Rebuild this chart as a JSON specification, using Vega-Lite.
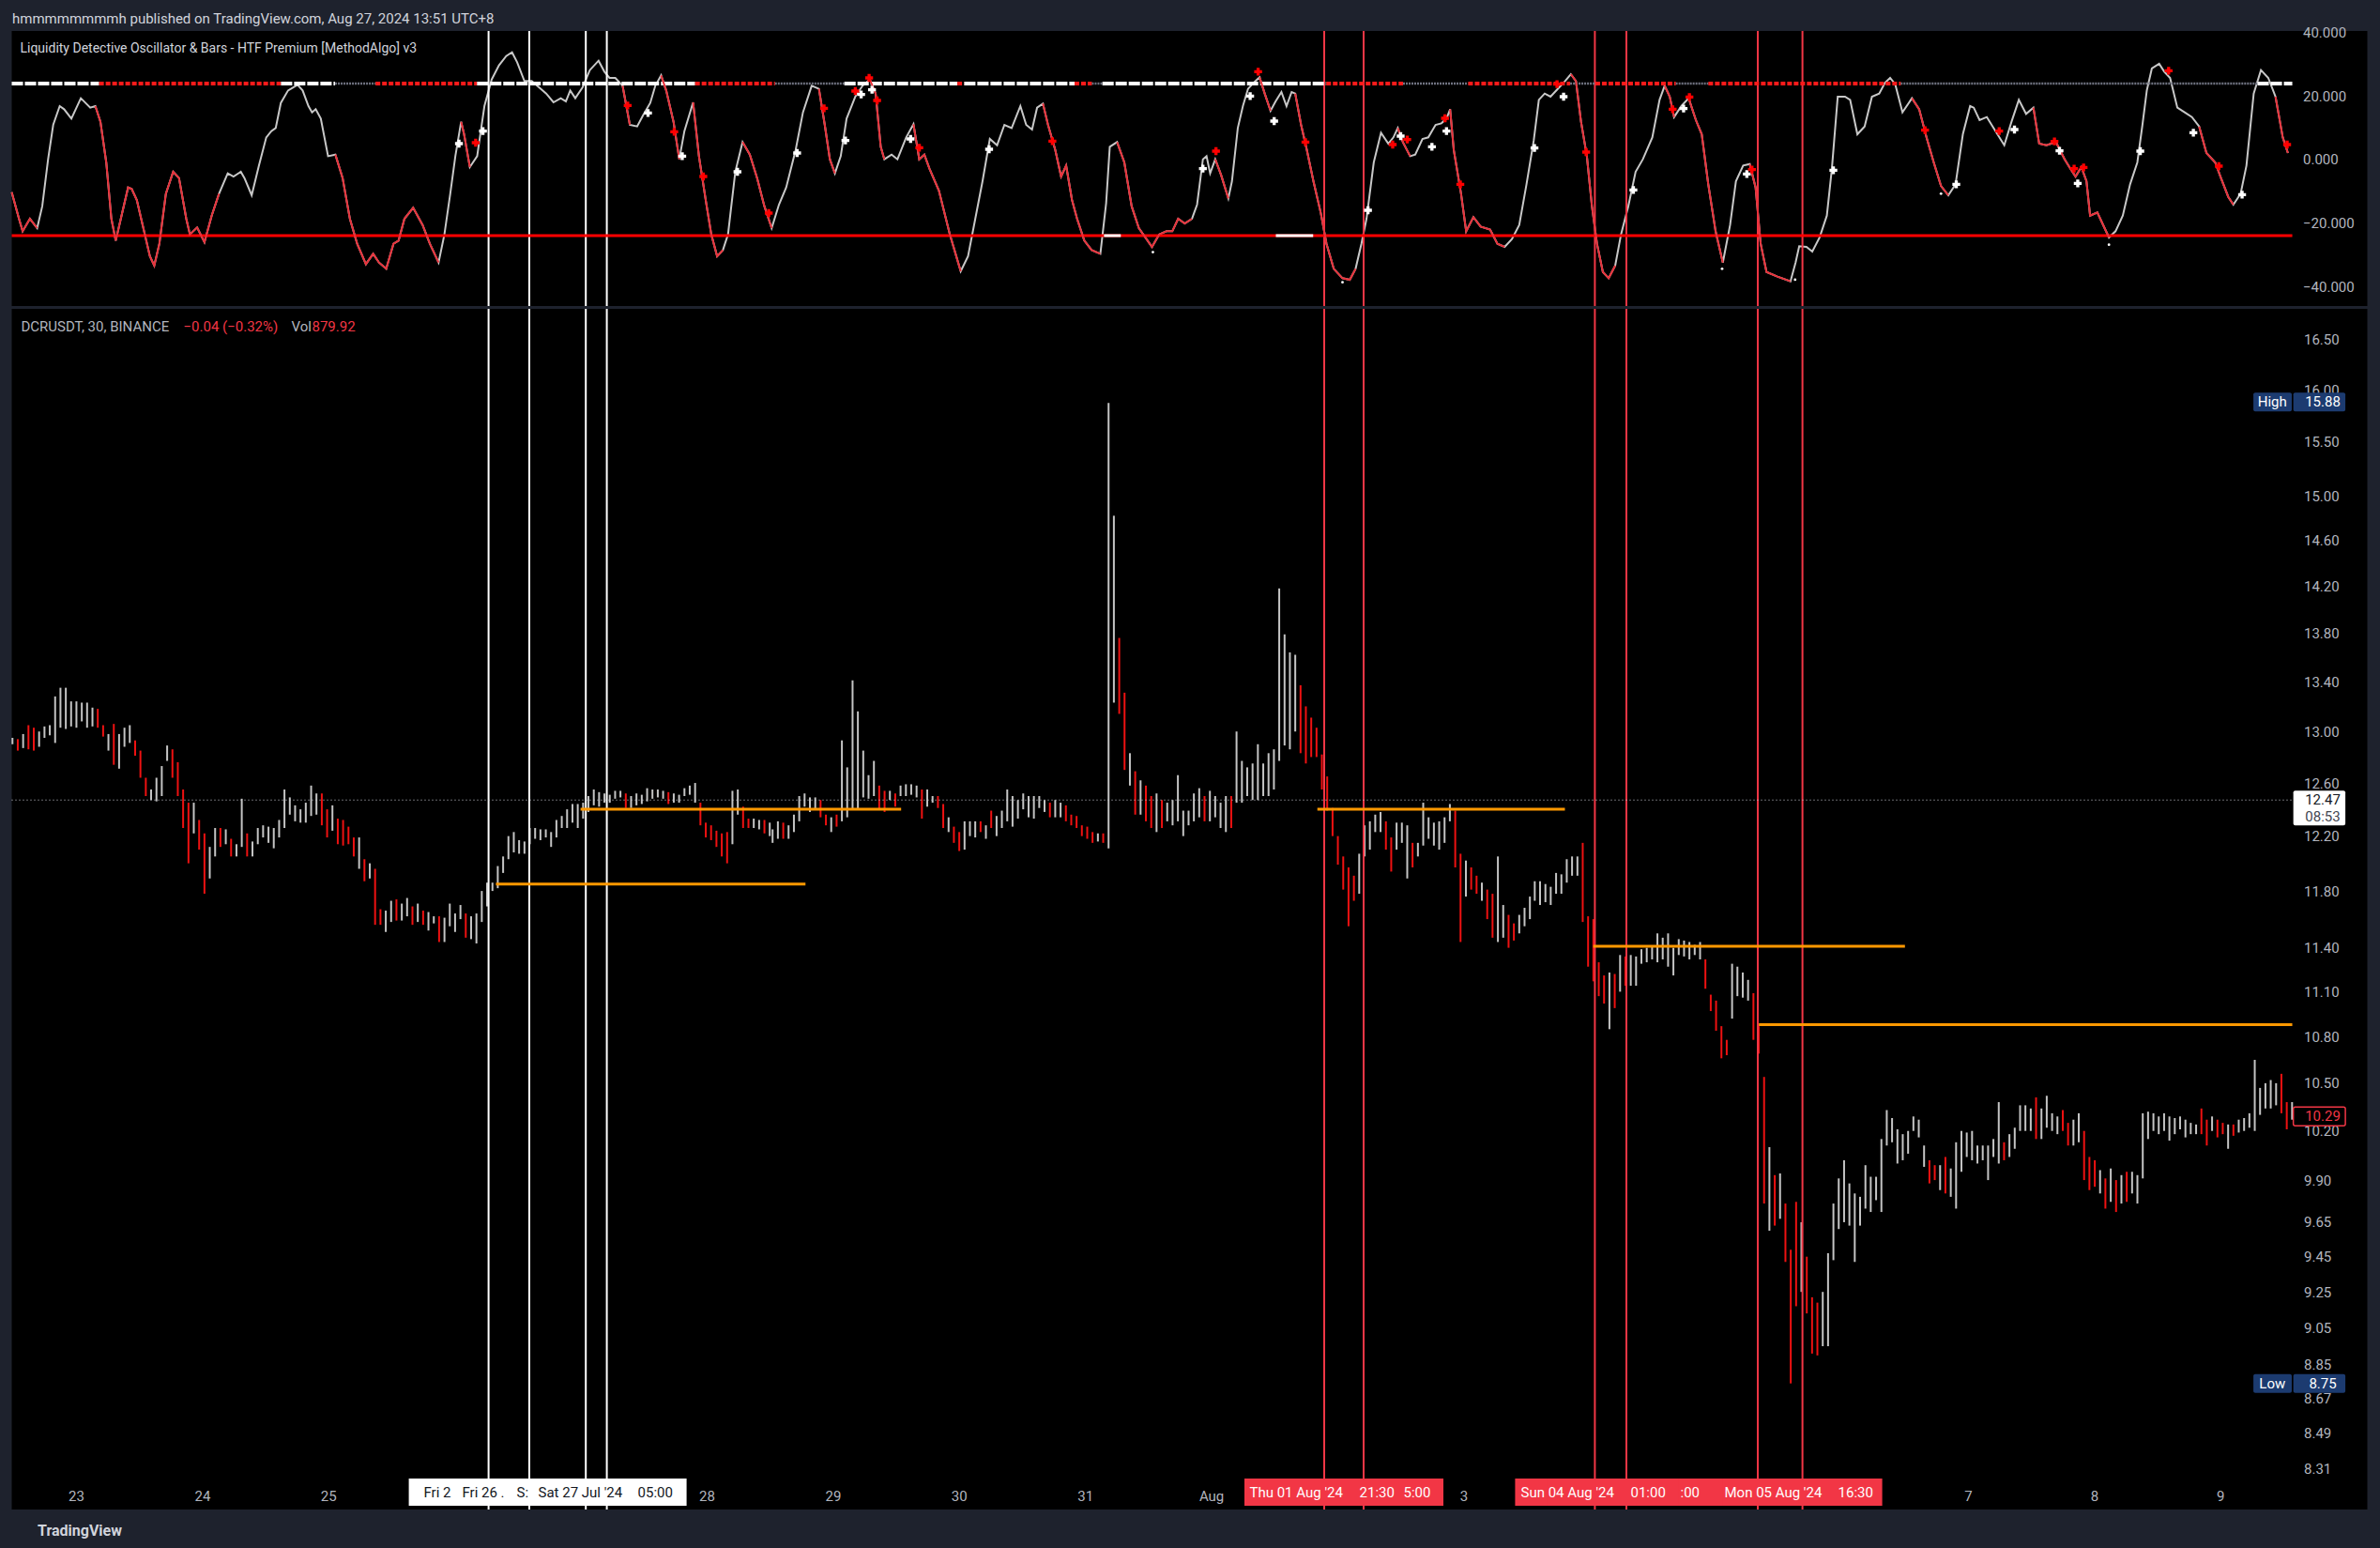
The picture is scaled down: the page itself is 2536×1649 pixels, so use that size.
{
"$schema": "https://vega.github.io/schema/vega-lite/v6.json",
"background": "#1e222d",
"padding": {"left": 8.5, "right": 13, "top": 12, "bottom": 20},
"title": {"text": "hmmmmmmmmh published on TradingView.com, Aug 27, 2024 13:51 UTC+8", "anchor": "start", "fontSize": 15, "fontWeight": "normal", "color": "#d1d4dc", "offset": 0, "dx": 4.5},
"spacing": 1,
"config": {"font": "Roboto", "view": {"fill": "#000000", "stroke": null}, "axis": {"labelColor": "#b2b5be", "labelFontSize": 15, "ticks": false, "domain": false, "grid": false, "labelFlush": false, "labelOverlap": false, "zindex": 1}},
"datasets": {
"vlines": [{"h":78.5,"k":"w"},{"h":86.25,"k":"w"},{"h":97,"k":"w"},{"h":101,"k":"w"},{"h":237.5,"k":"r"},{"h":245,"k":"r"},{"h":289,"k":"r"},{"h":295,"k":"r"},{"h":320,"k":"r"},{"h":328.5,"k":"r"}],
"topseg": [{"h1":-12.23,"h2":4.4,"k":"w"},{"h1":4.4,"h2":39,"k":"r"},{"h1":39,"h2":49.3,"k":"w"},{"h1":49.3,"h2":57,"k":"g"},{"h1":57,"h2":76.3,"k":"r"},{"h1":76.3,"h2":117.8,"k":"w"},{"h1":117.8,"h2":133,"k":"r"},{"h1":133,"h2":146.2,"k":"g"},{"h1":146.2,"h2":167.7,"k":"w"},{"h1":167.7,"h2":169,"k":"r"},{"h1":169,"h2":190,"k":"w"},{"h1":190,"h2":193.3,"k":"r"},{"h1":193.3,"h2":195.3,"k":"g"},{"h1":195.3,"h2":237.9,"k":"w"},{"h1":237.9,"h2":252.5,"k":"r"},{"h1":252.5,"h2":264.9,"k":"g"},{"h1":264.9,"h2":284.3,"k":"r"},{"h1":284.3,"h2":289.1,"k":"g"},{"h1":289.1,"h2":304.4,"k":"r"},{"h1":304.4,"h2":310.6,"k":"g"},{"h1":310.6,"h2":347.2,"k":"r"},{"h1":347.2,"h2":415.1,"k":"g"},{"h1":415.1,"h2":421.7,"k":"w"}],
"osc": [
{"h":-12.23,"v":-10.27,"r":1},{"h":-10.85,"v":-18.67,"r":1},{"h":-10.15,"v":-22.62,"r":1},{"h":-8.77,"v":-18.67,"r":1},{"h":-7.39,"v":-21.63,"r":1},{"h":-6.42,"v":-14.72,"r":0},{"h":-5.31,"v":0.1,"r":0},{"h":-4.34,"v":10.96,"r":0},{"h":-3.1,"v":16.89,"r":0},{"h":-2.27,"v":15.9,"r":0},{"h":-0.88,"v":12.94,"r":0},{"h":0.92,"v":19.36,"r":0},{"h":2.71,"v":16.39,"r":0},{"h":3.68,"v":16.89,"r":2},{"h":4.65,"v":11.95,"r":2},{"h":5.76,"v":-0.89,"r":2},{"h":6.73,"v":-18.67,"r":2},{"h":7.56,"v":-25.58,"r":2},{"h":8.53,"v":-18.67,"r":2},{"h":9.91,"v":-8.79,"r":2},{"h":10.6,"v":-9.29,"r":2},{"h":11.57,"v":-12.74,"r":2},{"h":12.68,"v":-20.64,"r":2},{"h":14.06,"v":-30.52,"r":2},{"h":14.89,"v":-33.48,"r":2},{"h":15.86,"v":-26.57,"r":2},{"h":17.1,"v":-10.77,"r":2},{"h":18.49,"v":-3.85,"r":2},{"h":19.6,"v":-5.83,"r":2},{"h":20.98,"v":-18.67,"r":2},{"h":21.67,"v":-23.61,"r":2},{"h":23.05,"v":-21.43,"r":2},{"h":24.44,"v":-26.08,"r":2},{"h":25.82,"v":-17.68,"r":2},{"h":27.21,"v":-10.77,"r":2},{"h":28.87,"v":-4.35,"r":0},{"h":29.97,"v":-5.34,"r":0},{"h":31.36,"v":-3.85,"r":0},{"h":32.05,"v":-5.83,"r":0},{"h":33.43,"v":-11.26,"r":0},{"h":34.81,"v":-1.88,"r":0},{"h":36.2,"v":7.01,"r":0},{"h":37.17,"v":8.99,"r":0},{"h":38.0,"v":9.97,"r":0},{"h":38.97,"v":17.87,"r":0},{"h":40.35,"v":21.82,"r":0},{"h":42.15,"v":23.6,"r":0},{"h":43.12,"v":21.82,"r":0},{"h":44.23,"v":16.89,"r":0},{"h":44.92,"v":14.91,"r":0},{"h":45.61,"v":15.9,"r":0},{"h":46.58,"v":12.94,"r":0},{"h":47.96,"v":1.08,"r":0},{"h":49.35,"v":1.58,"r":3},{"h":50.73,"v":-5.83,"r":3},{"h":52.11,"v":-18.67,"r":3},{"h":53.5,"v":-26.57,"r":3},{"h":55.16,"v":-32.99,"r":3},{"h":56.54,"v":-29.73,"r":3},{"h":57.65,"v":-32.5,"r":3},{"h":59.03,"v":-34.47,"r":3},{"h":60.41,"v":-26.57,"r":3},{"h":61.38,"v":-25.58,"r":3},{"h":62.49,"v":-18.67,"r":3},{"h":64.15,"v":-15.21,"r":3},{"h":65.95,"v":-20.64,"r":3},{"h":67.33,"v":-26.57,"r":3},{"h":68.99,"v":-32.5,"r":3},{"h":70.1,"v":-23.61,"r":0},{"h":71.21,"v":-10.77,"r":0},{"h":72.18,"v":1.08,"r":0},{"h":73.28,"v":11.95,"r":4},{"h":73.84,"v":7.99,"r":4},{"h":74.94,"v":-2.37,"r":4},{"h":76.33,"v":1.08,"r":0},{"h":77.71,"v":16.89,"r":0},{"h":79.09,"v":25.28,"r":0},{"h":80.48,"v":29.73,"r":0},{"h":81.86,"v":32.69,"r":0},{"h":82.97,"v":33.87,"r":0},{"h":83.94,"v":30.71,"r":0},{"h":85.32,"v":24.79,"r":0},{"h":86.71,"v":24.79,"r":0},{"h":88.09,"v":22.81,"r":0},{"h":89.47,"v":20.84,"r":0},{"h":90.85,"v":18.07,"r":0},{"h":92.24,"v":19.36,"r":0},{"h":93.21,"v":18.37,"r":0},{"h":94.04,"v":21.82,"r":0},{"h":95.0,"v":19.36,"r":0},{"h":96.39,"v":22.81,"r":0},{"h":97.77,"v":28.24,"r":0},{"h":99.43,"v":31.21,"r":0},{"h":100.54,"v":27.75,"r":0},{"h":101.51,"v":25.78,"r":0},{"h":102.61,"v":25.78,"r":0},{"h":104.0,"v":23.31,"r":5},{"h":105.38,"v":10.96,"r":5},{"h":106.77,"v":10.47,"r":0},{"h":107.88,"v":13.92,"r":0},{"h":109.26,"v":17.87,"r":0},{"h":110.23,"v":23.31,"r":0},{"h":111.33,"v":26.57,"r":6},{"h":112.3,"v":21.82,"r":6},{"h":113.69,"v":11.95,"r":6},{"h":114.79,"v":0.1,"r":6},{"h":115.76,"v":8.99,"r":0},{"h":117.42,"v":18.07,"r":7},{"h":118.53,"v":1.08,"r":7},{"h":119.91,"v":-13.73,"r":7},{"h":120.88,"v":-23.61,"r":7},{"h":121.99,"v":-30.52,"r":7},{"h":123.09,"v":-28.55,"r":7},{"h":124.06,"v":-23.61,"r":0},{"h":125.45,"v":-3.85,"r":0},{"h":126.83,"v":5.53,"r":8},{"h":128.21,"v":1.58,"r":8},{"h":129.6,"v":-5.83,"r":8},{"h":130.98,"v":-14.72,"r":8},{"h":132.37,"v":-21.63,"r":8},{"h":133.75,"v":-14.22,"r":0},{"h":135.13,"v":-8.79,"r":0},{"h":136.93,"v":3.06,"r":0},{"h":138.32,"v":14.91,"r":0},{"h":139.98,"v":23.31,"r":0},{"h":141.36,"v":22.32,"r":9},{"h":142.47,"v":10.96,"r":9},{"h":143.44,"v":0.1,"r":9},{"h":144.4,"v":-4.35,"r":9},{"h":145.51,"v":1.08,"r":0},{"h":146.62,"v":12.94,"r":0},{"h":148.28,"v":19.85,"r":0},{"h":149.66,"v":23.31,"r":0},{"h":151.05,"v":25.28,"r":10},{"h":152.15,"v":20.84,"r":10},{"h":153.12,"v":4.05,"r":10},{"h":153.81,"v":0.1,"r":10},{"h":155.19,"v":1.58,"r":0},{"h":156.3,"v":0.1,"r":0},{"h":157.96,"v":7.01,"r":0},{"h":159.35,"v":11.16,"r":11},{"h":160.45,"v":0.1,"r":11},{"h":161.42,"v":1.58,"r":11},{"h":162.39,"v":-2.87,"r":11},{"h":164.19,"v":-9.78,"r":11},{"h":166.27,"v":-23.61,"r":11},{"h":168.34,"v":-35.26,"r":11},{"h":169.73,"v":-30.52,"r":0},{"h":171.11,"v":-18.67,"r":0},{"h":172.49,"v":-6.82,"r":0},{"h":173.88,"v":6.52,"r":0},{"h":175.26,"v":4.54,"r":0},{"h":176.65,"v":10.96,"r":0},{"h":178.03,"v":9.97,"r":0},{"h":179.69,"v":16.89,"r":0},{"h":180.8,"v":10.96,"r":0},{"h":181.91,"v":9.48,"r":0},{"h":182.87,"v":16.39,"r":0},{"h":183.98,"v":17.68,"r":12},{"h":184.95,"v":10.96,"r":12},{"h":186.33,"v":3.06,"r":12},{"h":187.44,"v":-5.34,"r":12},{"h":188.4,"v":-1.88,"r":12},{"h":189.51,"v":-12.74,"r":12},{"h":190.48,"v":-18.67,"r":12},{"h":191.86,"v":-25.58,"r":12},{"h":193.25,"v":-28.55,"r":12},{"h":194.91,"v":-29.73,"r":12},{"h":196.01,"v":-13.73,"r":0},{"h":196.7,"v":4.05,"r":0},{"h":198.09,"v":5.53,"r":13},{"h":199.47,"v":-0.89,"r":13},{"h":200.86,"v":-14.72,"r":13},{"h":202.24,"v":-21.63,"r":13},{"h":204.73,"v":-27.56,"r":13},{"h":206.11,"v":-23.61,"r":13},{"h":207.5,"v":-22.62,"r":13},{"h":208.6,"v":-22.62,"r":13},{"h":209.71,"v":-18.67,"r":13},{"h":210.96,"v":-20.15,"r":13},{"h":212.34,"v":-18.67,"r":13},{"h":213.31,"v":-14.22,"r":0},{"h":214.42,"v":0.1,"r":0},{"h":215.11,"v":1.08,"r":0},{"h":215.8,"v":-4.35,"r":0},{"h":216.77,"v":0.1,"r":14},{"h":217.88,"v":-4.84,"r":14},{"h":219.26,"v":-12.25,"r":14},{"h":219.95,"v":-6.82,"r":0},{"h":221.06,"v":9.97,"r":0},{"h":222.03,"v":16.89,"r":0},{"h":223.0,"v":22.32,"r":0},{"h":224.1,"v":24.29,"r":0},{"h":225.21,"v":25.97,"r":15},{"h":226.18,"v":20.84,"r":15},{"h":227.29,"v":15.41,"r":15},{"h":228.25,"v":18.37,"r":0},{"h":229.36,"v":21.33,"r":0},{"h":230.33,"v":16.89,"r":0},{"h":231.3,"v":21.33,"r":0},{"h":231.99,"v":20.84,"r":16},{"h":233.1,"v":10.96,"r":16},{"h":234.2,"v":3.06,"r":16},{"h":235.45,"v":-6.82,"r":16},{"h":236.83,"v":-16.69,"r":16},{"h":237.94,"v":-26.57,"r":16},{"h":239.32,"v":-34.47,"r":16},{"h":240.98,"v":-37.43,"r":16},{"h":242.37,"v":-37.93,"r":16},{"h":243.47,"v":-34.47,"r":16},{"h":244.58,"v":-26.57,"r":0},{"h":245.55,"v":-18.67,"r":0},{"h":246.93,"v":-0.89,"r":0},{"h":248.31,"v":8.49,"r":0},{"h":249.7,"v":5.03,"r":0},{"h":250.67,"v":7.01,"r":0},{"h":251.5,"v":9.97,"r":17},{"h":252.47,"v":5.53,"r":17},{"h":253.85,"v":1.08,"r":17},{"h":254.82,"v":1.58,"r":0},{"h":256.2,"v":6.52,"r":0},{"h":257.31,"v":7.01,"r":0},{"h":258.69,"v":10.96,"r":0},{"h":259.8,"v":11.45,"r":0},{"h":260.77,"v":12.94,"r":0},{"h":261.46,"v":15.9,"r":18},{"h":262.15,"v":3.06,"r":18},{"h":263.54,"v":-10.77,"r":18},{"h":264.51,"v":-22.62,"r":18},{"h":265.89,"v":-18.17,"r":18},{"h":267.27,"v":-21.14,"r":18},{"h":269.07,"v":-22.12,"r":18},{"h":270.46,"v":-26.57,"r":18},{"h":271.84,"v":-27.56,"r":18},{"h":273.22,"v":-25.09,"r":0},{"h":274.61,"v":-20.64,"r":0},{"h":275.99,"v":-7.8,"r":0},{"h":277.37,"v":6.02,"r":0},{"h":278.34,"v":18.86,"r":0},{"h":279.45,"v":20.84,"r":0},{"h":280.56,"v":19.85,"r":0},{"h":282.22,"v":22.81,"r":0},{"h":283.33,"v":24.79,"r":0},{"h":284.43,"v":26.96,"r":19},{"h":285.4,"v":24.79,"r":19},{"h":286.37,"v":11.95,"r":19},{"h":287.48,"v":1.08,"r":19},{"h":288.44,"v":-14.72,"r":19},{"h":289.41,"v":-26.57,"r":19},{"h":290.52,"v":-35.46,"r":19},{"h":291.63,"v":-37.43,"r":19},{"h":292.87,"v":-33.48,"r":19},{"h":293.98,"v":-23.61,"r":0},{"h":295.36,"v":-14.72,"r":0},{"h":296.75,"v":-3.85,"r":0},{"h":298.13,"v":0.1,"r":0},{"h":299.93,"v":7.01,"r":0},{"h":301.31,"v":18.86,"r":0},{"h":302.28,"v":23.31,"r":20},{"h":303.25,"v":19.85,"r":20},{"h":304.08,"v":13.43,"r":20},{"h":305.46,"v":16.89,"r":0},{"h":306.85,"v":19.36,"r":21},{"h":308.23,"v":12.44,"r":21},{"h":309.34,"v":7.99,"r":21},{"h":310.58,"v":-7.8,"r":21},{"h":311.97,"v":-22.62,"r":21},{"h":313.35,"v":-32.5,"r":21},{"h":314.73,"v":-20.64,"r":0},{"h":315.84,"v":-6.82,"r":0},{"h":317.22,"v":-1.88,"r":0},{"h":318.47,"v":-1.38,"r":22},{"h":319.58,"v":-8.79,"r":22},{"h":320.55,"v":-26.57,"r":22},{"h":321.66,"v":-35.46,"r":22},{"h":323.73,"v":-36.94,"r":22},{"h":326.22,"v":-38.42,"r":22},{"h":327.19,"v":-32.5,"r":0},{"h":327.88,"v":-27.36,"r":0},{"h":329.26,"v":-27.56,"r":0},{"h":330.37,"v":-29.04,"r":0},{"h":331.75,"v":-24.6,"r":0},{"h":333.14,"v":-17.68,"r":0},{"h":334.1,"v":-2.87,"r":0},{"h":335.21,"v":19.85,"r":0},{"h":336.6,"v":19.85,"r":0},{"h":337.57,"v":18.86,"r":0},{"h":338.95,"v":7.99,"r":0},{"h":340.33,"v":10.47,"r":0},{"h":341.72,"v":19.85,"r":0},{"h":343.1,"v":20.84,"r":0},{"h":344.21,"v":24.29,"r":0},{"h":345.18,"v":25.78,"r":0},{"h":346.15,"v":23.8,"r":0},{"h":347.53,"v":14.91,"r":0},{"h":349.33,"v":19.36,"r":23},{"h":350.71,"v":15.9,"r":23},{"h":352.1,"v":7.01,"r":23},{"h":353.48,"v":-0.89,"r":23},{"h":354.86,"v":-8.3,"r":23},{"h":356.25,"v":-11.26,"r":23},{"h":357.63,"v":-7.8,"r":0},{"h":359.02,"v":7.99,"r":0},{"h":360.4,"v":16.89,"r":0},{"h":361.09,"v":16.39,"r":0},{"h":362.2,"v":12.44,"r":0},{"h":363.58,"v":13.43,"r":0},{"h":365.24,"v":8.99,"r":0},{"h":366.9,"v":4.54,"r":0},{"h":368.28,"v":11.95,"r":0},{"h":369.67,"v":18.86,"r":0},{"h":371.05,"v":14.42,"r":0},{"h":372.44,"v":16.39,"r":24},{"h":373.54,"v":5.03,"r":24},{"h":374.93,"v":4.54,"r":24},{"h":376.73,"v":5.53,"r":24},{"h":378.39,"v":0.1,"r":24},{"h":379.49,"v":-2.87,"r":24},{"h":380.46,"v":-5.34,"r":24},{"h":381.57,"v":-2.37,"r":24},{"h":382.54,"v":-6.82,"r":24},{"h":383.23,"v":-17.68,"r":24},{"h":384.61,"v":-16.69,"r":24},{"h":385.99,"v":-21.63,"r":24},{"h":386.82,"v":-24.6,"r":24},{"h":388.07,"v":-22.62,"r":0},{"h":389.45,"v":-17.68,"r":0},{"h":390.84,"v":-7.8,"r":0},{"h":392.22,"v":-0.89,"r":0},{"h":393.19,"v":10.96,"r":0},{"h":394.02,"v":21.82,"r":0},{"h":394.98,"v":28.74,"r":0},{"h":396.37,"v":30.22,"r":0},{"h":397.34,"v":27.75,"r":0},{"h":398.45,"v":25.78,"r":0},{"h":399.83,"v":16.39,"r":0},{"h":401.21,"v":14.91,"r":0},{"h":402.6,"v":13.43,"r":0},{"h":403.98,"v":10.47,"r":25},{"h":405.37,"v":2.07,"r":25},{"h":407.03,"v":-0.89,"r":25},{"h":408.13,"v":-5.83,"r":25},{"h":409.52,"v":-11.76,"r":25},{"h":410.49,"v":-14.22,"r":25},{"h":411.87,"v":-10.77,"r":0},{"h":412.98,"v":-1.88,"r":0},{"h":414.36,"v":20.84,"r":0},{"h":415.74,"v":28.24,"r":0},{"h":417.13,"v":25.78,"r":0},{"h":418.51,"v":19.85,"r":26},{"h":419.89,"v":7.01,"r":26},{"h":420.87,"v":2.07,"r":26}],
"cross": [{"h":72.87,"v":5.03,"k":"w"},{"h":77.43,"v":8.99,"k":"w"},{"h":108.84,"v":14.71,"k":"w"},{"h":115.35,"v":1.08,"k":"w"},{"h":125.86,"v":-3.85,"k":"w"},{"h":137.21,"v":2.07,"k":"w"},{"h":146.4,"v":6.02,"k":"w"},{"h":149.39,"v":20.54,"k":"w"},{"h":151.46,"v":22.02,"k":"w"},{"h":158.8,"v":6.52,"k":"w"},{"h":173.74,"v":3.26,"k":"w"},{"h":76.05,"v":5.33,"k":"r"},{"h":104.97,"v":17.08,"k":"r"},{"h":113.83,"v":8.79,"k":"r"},{"h":119.36,"v":-5.34,"k":"r"},{"h":131.81,"v":-16.89,"k":"r"},{"h":142.33,"v":16.2,"k":"r"},{"h":148.28,"v":21.63,"k":"r"},{"h":150.91,"v":25.78,"k":"r"},{"h":152.43,"v":18.66,"k":"r"},{"h":160.46,"v":3.75,"k":"r"},{"h":185.78,"v":5.83,"k":"r"},{"h":214.42,"v":-2.87,"k":"w"},{"h":223.41,"v":20.05,"k":"w"},{"h":227.98,"v":12.15,"k":"w"},{"h":245.83,"v":-16.0,"k":"w"},{"h":252.05,"v":7.41,"k":"w"},{"h":258.0,"v":4.05,"k":"w"},{"h":260.77,"v":8.99,"k":"w"},{"h":277.51,"v":3.65,"k":"w"},{"h":283.05,"v":19.85,"k":"w"},{"h":296.33,"v":-9.58,"k":"w"},{"h":305.88,"v":16.1,"k":"w"},{"h":317.92,"v":-4.55,"k":"w"},{"h":334.38,"v":-3.36,"k":"w"},{"h":357.77,"v":-7.8,"k":"w"},{"h":368.84,"v":9.48,"k":"w"},{"h":377.41,"v":2.76,"k":"w"},{"h":380.88,"v":-7.51,"k":"w"},{"h":392.78,"v":2.66,"k":"w"},{"h":402.88,"v":8.49,"k":"w"},{"h":412.15,"v":-11.06,"k":"w"},{"h":216.91,"v":2.66,"k":"r"},{"h":224.93,"v":27.75,"k":"r"},{"h":233.93,"v":5.53,"k":"r"},{"h":250.53,"v":4.74,"k":"r"},{"h":253.3,"v":6.32,"k":"r"},{"h":260.49,"v":13.03,"k":"r"},{"h":263.4,"v":-7.8,"k":"r"},{"h":281.8,"v":23.8,"k":"r"},{"h":287.34,"v":2.37,"k":"r"},{"h":303.8,"v":15.9,"k":"r"},{"h":306.99,"v":19.75,"k":"r"},{"h":318.89,"v":-3.16,"k":"r"},{"h":351.82,"v":9.28,"k":"r"},{"h":365.93,"v":8.99,"k":"r"},{"h":376.45,"v":5.73,"k":"r"},{"h":380.19,"v":-2.87,"k":"r"},{"h":381.99,"v":-2.47,"k":"r"},{"h":398.17,"v":28.05,"k":"r"},{"h":407.72,"v":-2.08,"k":"r"},{"h":420.72,"v":4.74,"k":"r"}],
"dots": [{"h":240.98,"v":-38.72},{"h":313.21,"v":-34.47},{"h":354.86,"v":-10.77},{"h":386.82,"v":-26.87},{"h":204.9,"v":-29.2},{"h":327.1,"v":-37.9}],
"levels": [{"h1":79.9,"h2":138.8,"p":11.85},{"h1":96,"h2":157,"p":12.4},{"h1":236.2,"h2":283.3,"p":12.4},{"h1":288.7,"h2":348,"p":11.41},{"h1":320.2,"h2":421.7,"p":10.88}],
"xlab": [{"h":66.16,"t":"Fri 2","k":"w"},{"h":73.48,"t":"Fri 26 .","k":"w"},{"h":83.84,"t":"S:","k":"w"},{"h":87.95,"t":"Sat 27 Jul '24","k":"w"},{"h":106.88,"t":"05:00","k":"w"},{"h":223.3,"t":"Thu 01 Aug '24","k":"r"},{"h":244.2,"t":"21:30","k":"r"},{"h":252.59,"t":"5:00","k":"r"},{"h":274.91,"t":"Sun 04 Aug '24","k":"r"},{"h":295.8,"t":"01:00","k":"r"},{"h":305.27,"t":":00","k":"r"},{"h":313.66,"t":"Mon 05 Aug '24","k":"r"},{"h":335.27,"t":"16:30","k":"r"}],
"tags": [{"v":15.88,"val":"15.88","lab":"High","k":"hl"},{"v":8.75,"val":"8.75","lab":"Low","k":"hl"},{"v":12.47,"val":"12.47","lab":"","cd":"08:53","k":"last"},{"v":10.29,"val":"10.29","lab":"","k":"cur"}],
"legend": [{"h":-10.45,"t":"DCRUSDT, 30, BINANCE","k":"g"},{"h":20.45,"t":"−0.04 (−0.32%)","k":"r"},{"h":40.98,"t":"Vol","k":"g"},{"h":44.91,"t":"879.92","k":"r"}],
"bars": [
{"h":-12.59,"hi":12.95,"lo":12.9,"d":0},{"h":-11.58,"hi":12.94,"lo":12.85,"d":1},{"h":-10.56,"hi":12.98,"lo":12.87,"d":0},{"h":-9.55,"hi":13.05,"lo":12.86,"d":1},{"h":-8.53,"hi":13.03,"lo":12.85,"d":1},{"h":-7.52,"hi":13.0,"lo":12.88,"d":0},{"h":-6.5,"hi":13.04,"lo":12.95,"d":0},{"h":-5.49,"hi":13.05,"lo":12.97,"d":0},{"h":-4.47,"hi":13.28,"lo":12.91,"d":0},{"h":-3.46,"hi":13.35,"lo":13.03,"d":0},{"h":-2.44,"hi":13.35,"lo":13.02,"d":0},{"h":-1.43,"hi":13.24,"lo":13.04,"d":0},
{"h":-0.42,"hi":13.24,"lo":13.03,"d":0},{"h":0.6,"hi":13.23,"lo":13.08,"d":0},{"h":1.61,"hi":13.23,"lo":13.03,"d":0},{"h":2.63,"hi":13.19,"lo":13.04,"d":0},{"h":3.64,"hi":13.18,"lo":13.03,"d":1},{"h":4.66,"hi":13.05,"lo":12.96,"d":1},{"h":5.67,"hi":12.98,"lo":12.85,"d":0},{"h":6.69,"hi":13.06,"lo":12.74,"d":1},{"h":7.7,"hi":12.98,"lo":12.71,"d":0},{"h":8.72,"hi":13.03,"lo":12.88,"d":0},{"h":9.73,"hi":13.05,"lo":12.91,"d":0},{"h":10.75,"hi":12.93,"lo":12.81,"d":1},{"h":11.76,"hi":12.85,"lo":12.64,"d":1},{"h":12.78,"hi":12.64,"lo":12.5,"d":1},{"h":13.79,"hi":12.55,"lo":12.47,"d":0},{"h":14.81,"hi":12.64,"lo":12.46,"d":0},{"h":15.82,"hi":12.73,"lo":12.5,"d":0},{"h":16.84,"hi":12.89,"lo":12.77,"d":0},{"h":17.85,"hi":12.86,"lo":12.64,"d":1},{"h":18.87,"hi":12.76,"lo":12.5,"d":1},{"h":19.88,"hi":12.55,"lo":12.26,"d":1},{"h":20.9,"hi":12.45,"lo":12.0,"d":1},{"h":21.91,"hi":12.45,"lo":12.22,"d":0},{"h":22.93,"hi":12.32,"lo":12.1,"d":1},
{"h":23.94,"hi":12.22,"lo":11.78,"d":1},{"h":24.95,"hi":12.12,"lo":11.89,"d":0},{"h":25.97,"hi":12.26,"lo":12.05,"d":0},{"h":26.98,"hi":12.26,"lo":12.12,"d":1},{"h":28.0,"hi":12.25,"lo":12.14,"d":0},{"h":29.01,"hi":12.18,"lo":12.05,"d":1},{"h":30.03,"hi":12.14,"lo":12.05,"d":0},{"h":31.04,"hi":12.48,"lo":12.12,"d":0},{"h":32.06,"hi":12.22,"lo":12.05,"d":1},{"h":33.07,"hi":12.16,"lo":12.05,"d":0},{"h":34.09,"hi":12.26,"lo":12.14,"d":0},{"h":35.1,"hi":12.28,"lo":12.19,"d":0},{"h":36.12,"hi":12.27,"lo":12.15,"d":0},{"h":37.13,"hi":12.26,"lo":12.11,"d":0},{"h":38.15,"hi":12.32,"lo":12.19,"d":0},{"h":39.16,"hi":12.55,"lo":12.26,"d":0},{"h":40.18,"hi":12.49,"lo":12.36,"d":0},{"h":41.19,"hi":12.43,"lo":12.31,"d":0},{"h":42.21,"hi":12.4,"lo":12.3,"d":0},{"h":43.22,"hi":12.45,"lo":12.3,"d":0},{"h":44.24,"hi":12.58,"lo":12.35,"d":0},{"h":45.25,"hi":12.52,"lo":12.36,"d":0},{"h":46.27,"hi":12.52,"lo":12.28,"d":1},{"h":47.28,"hi":12.4,"lo":12.19,"d":1},
{"h":48.29,"hi":12.43,"lo":12.24,"d":0},{"h":49.31,"hi":12.33,"lo":12.14,"d":1},{"h":50.32,"hi":12.32,"lo":12.13,"d":1},{"h":51.34,"hi":12.27,"lo":12.14,"d":1},{"h":52.35,"hi":12.19,"lo":12.05,"d":1},{"h":53.37,"hi":12.19,"lo":11.96,"d":0},{"h":54.38,"hi":12.03,"lo":11.87,"d":1},{"h":55.4,"hi":12.0,"lo":11.89,"d":0},{"h":56.41,"hi":11.96,"lo":11.56,"d":1},{"h":57.43,"hi":11.67,"lo":11.56,"d":1},{"h":58.44,"hi":11.66,"lo":11.51,"d":0},{"h":59.46,"hi":11.73,"lo":11.58,"d":0},{"h":60.47,"hi":11.74,"lo":11.59,"d":1},{"h":61.49,"hi":11.71,"lo":11.59,"d":0},{"h":62.5,"hi":11.75,"lo":11.62,"d":0},{"h":63.52,"hi":11.69,"lo":11.56,"d":1},{"h":64.53,"hi":11.71,"lo":11.58,"d":0},{"h":65.55,"hi":11.66,"lo":11.56,"d":1},{"h":66.56,"hi":11.65,"lo":11.52,"d":0},{"h":67.58,"hi":11.62,"lo":11.57,"d":0},{"h":68.59,"hi":11.62,"lo":11.44,"d":1},{"h":69.61,"hi":11.61,"lo":11.44,"d":0},{"h":70.62,"hi":11.71,"lo":11.55,"d":0},{"h":71.63,"hi":11.64,"lo":11.51,"d":0},
{"h":72.65,"hi":11.7,"lo":11.6,"d":0},{"h":73.66,"hi":11.64,"lo":11.47,"d":1},{"h":74.68,"hi":11.62,"lo":11.46,"d":0},{"h":75.69,"hi":11.64,"lo":11.43,"d":0},{"h":76.71,"hi":11.8,"lo":11.58,"d":0},{"h":77.72,"hi":11.86,"lo":11.69,"d":0},{"h":78.74,"hi":11.86,"lo":11.8,"d":0},{"h":79.75,"hi":11.98,"lo":11.82,"d":0},{"h":80.77,"hi":12.05,"lo":11.93,"d":0},{"h":81.78,"hi":12.2,"lo":12.03,"d":0},{"h":82.8,"hi":12.23,"lo":12.08,"d":0},{"h":83.81,"hi":12.17,"lo":12.07,"d":0},{"h":84.83,"hi":12.16,"lo":12.07,"d":0},{"h":85.84,"hi":12.26,"lo":12.14,"d":0},{"h":86.86,"hi":12.26,"lo":12.18,"d":0},{"h":87.87,"hi":12.25,"lo":12.17,"d":0},{"h":88.89,"hi":12.25,"lo":12.19,"d":0},{"h":89.9,"hi":12.23,"lo":12.12,"d":0},{"h":90.91,"hi":12.32,"lo":12.19,"d":0},{"h":91.93,"hi":12.35,"lo":12.26,"d":0},{"h":92.94,"hi":12.4,"lo":12.26,"d":0},{"h":93.96,"hi":12.44,"lo":12.3,"d":0},{"h":94.97,"hi":12.44,"lo":12.26,"d":0},{"h":95.99,"hi":12.45,"lo":12.33,"d":0},
{"h":97.0,"hi":12.5,"lo":12.38,"d":0},{"h":98.02,"hi":12.55,"lo":12.43,"d":0},{"h":99.03,"hi":12.53,"lo":12.42,"d":0},{"h":100.05,"hi":12.52,"lo":12.45,"d":0},{"h":101.06,"hi":12.51,"lo":12.45,"d":0},{"h":102.08,"hi":12.54,"lo":12.48,"d":0},{"h":103.09,"hi":12.54,"lo":12.49,"d":0},{"h":104.11,"hi":12.52,"lo":12.41,"d":1},{"h":105.12,"hi":12.5,"lo":12.41,"d":0},{"h":106.14,"hi":12.52,"lo":12.43,"d":0},{"h":107.15,"hi":12.51,"lo":12.44,"d":0},{"h":108.17,"hi":12.56,"lo":12.46,"d":0},{"h":109.18,"hi":12.55,"lo":12.48,"d":0},{"h":110.2,"hi":12.55,"lo":12.49,"d":0},{"h":111.21,"hi":12.54,"lo":12.48,"d":0},{"h":112.22,"hi":12.53,"lo":12.44,"d":1},{"h":113.24,"hi":12.52,"lo":12.45,"d":0},{"h":114.25,"hi":12.51,"lo":12.45,"d":0},{"h":115.27,"hi":12.56,"lo":12.5,"d":0},{"h":116.28,"hi":12.58,"lo":12.51,"d":0},{"h":117.3,"hi":12.6,"lo":12.45,"d":0},{"h":118.31,"hi":12.45,"lo":12.28,"d":1},{"h":119.33,"hi":12.3,"lo":12.19,"d":1},{"h":120.34,"hi":12.28,"lo":12.17,"d":1},
{"h":121.36,"hi":12.24,"lo":12.12,"d":1},{"h":122.37,"hi":12.22,"lo":12.05,"d":1},{"h":123.39,"hi":12.23,"lo":12.0,"d":1},{"h":124.4,"hi":12.54,"lo":12.14,"d":0},{"h":125.42,"hi":12.55,"lo":12.36,"d":0},{"h":126.43,"hi":12.42,"lo":12.26,"d":1},{"h":127.45,"hi":12.33,"lo":12.26,"d":1},{"h":128.46,"hi":12.33,"lo":12.26,"d":0},{"h":129.48,"hi":12.32,"lo":12.25,"d":0},{"h":130.49,"hi":12.32,"lo":12.22,"d":1},{"h":131.5,"hi":12.3,"lo":12.2,"d":0},{"h":132.04,"hi":12.25,"lo":12.15,"d":0},{"h":133.05,"hi":12.31,"lo":12.18,"d":0},{"h":134.07,"hi":12.3,"lo":12.18,"d":1},{"h":135.08,"hi":12.28,"lo":12.18,"d":0},{"h":136.1,"hi":12.36,"lo":12.23,"d":0},{"h":137.11,"hi":12.5,"lo":12.31,"d":0},{"h":138.13,"hi":12.52,"lo":12.42,"d":0},{"h":139.14,"hi":12.49,"lo":12.38,"d":0},{"h":140.16,"hi":12.49,"lo":12.4,"d":0},{"h":141.17,"hi":12.47,"lo":12.34,"d":1},{"h":142.19,"hi":12.36,"lo":12.28,"d":1},{"h":143.2,"hi":12.34,"lo":12.23,"d":0},
{"h":144.22,"hi":12.36,"lo":12.27,"d":1},{"h":145.23,"hi":12.93,"lo":12.31,"d":0},{"h":146.24,"hi":12.72,"lo":12.34,"d":0},{"h":147.26,"hi":13.41,"lo":12.4,"d":0},{"h":148.27,"hi":13.16,"lo":12.4,"d":0},{"h":149.29,"hi":12.85,"lo":12.49,"d":0},{"h":150.3,"hi":12.66,"lo":12.48,"d":0},{"h":151.32,"hi":12.77,"lo":12.5,"d":0},{"h":152.33,"hi":12.58,"lo":12.4,"d":1},{"h":153.35,"hi":12.54,"lo":12.38,"d":1},{"h":154.36,"hi":12.54,"lo":12.47,"d":0},{"h":155.38,"hi":12.52,"lo":12.42,"d":1},{"h":156.39,"hi":12.58,"lo":12.5,"d":0},{"h":157.41,"hi":12.59,"lo":12.5,"d":0},{"h":158.42,"hi":12.59,"lo":12.51,"d":0},{"h":159.44,"hi":12.58,"lo":12.49,"d":0},{"h":160.45,"hi":12.55,"lo":12.33,"d":1},{"h":161.47,"hi":12.55,"lo":12.42,"d":0},{"h":162.48,"hi":12.5,"lo":12.45,"d":0},{"h":163.5,"hi":12.5,"lo":12.41,"d":1},{"h":164.51,"hi":12.44,"lo":12.26,"d":1},{"h":165.53,"hi":12.34,"lo":12.23,"d":0},{"h":166.54,"hi":12.27,"lo":12.15,"d":1},{"h":167.56,"hi":12.23,"lo":12.09,"d":1},
{"h":168.57,"hi":12.31,"lo":12.1,"d":0},{"h":169.59,"hi":12.31,"lo":12.2,"d":0},{"h":170.6,"hi":12.31,"lo":12.19,"d":0},{"h":171.62,"hi":12.31,"lo":12.23,"d":1},{"h":172.63,"hi":12.28,"lo":12.18,"d":0},{"h":173.64,"hi":12.39,"lo":12.26,"d":1},{"h":174.66,"hi":12.35,"lo":12.2,"d":0},{"h":175.67,"hi":12.39,"lo":12.26,"d":0},{"h":176.69,"hi":12.55,"lo":12.31,"d":0},{"h":177.7,"hi":12.5,"lo":12.27,"d":0},{"h":178.72,"hi":12.47,"lo":12.33,"d":0},{"h":179.73,"hi":12.52,"lo":12.4,"d":0},{"h":180.75,"hi":12.5,"lo":12.34,"d":0},{"h":181.76,"hi":12.5,"lo":12.33,"d":0},{"h":182.78,"hi":12.5,"lo":12.41,"d":0},{"h":183.79,"hi":12.47,"lo":12.38,"d":0},{"h":184.81,"hi":12.45,"lo":12.34,"d":1},{"h":185.82,"hi":12.47,"lo":12.34,"d":0},{"h":186.84,"hi":12.45,"lo":12.34,"d":0},{"h":187.85,"hi":12.43,"lo":12.31,"d":1},{"h":188.87,"hi":12.36,"lo":12.28,"d":1},{"h":189.88,"hi":12.35,"lo":12.26,"d":1},{"h":190.89,"hi":12.28,"lo":12.2,"d":1},{"h":191.91,"hi":12.27,"lo":12.18,"d":1},
{"h":192.92,"hi":12.23,"lo":12.15,"d":1},{"h":193.94,"hi":12.22,"lo":12.16,"d":0},{"h":194.95,"hi":12.22,"lo":12.15,"d":1},{"h":195.97,"hi":15.87,"lo":12.11,"d":0},{"h":196.98,"hi":14.82,"lo":13.23,"d":0},{"h":198.0,"hi":13.76,"lo":13.14,"d":1},{"h":199.01,"hi":13.31,"lo":12.7,"d":1},{"h":200.03,"hi":12.83,"lo":12.58,"d":0},{"h":201.04,"hi":12.69,"lo":12.36,"d":1},{"h":202.06,"hi":12.62,"lo":12.36,"d":0},{"h":203.07,"hi":12.58,"lo":12.31,"d":1},{"h":204.09,"hi":12.5,"lo":12.26,"d":1},{"h":205.1,"hi":12.52,"lo":12.23,"d":0},{"h":206.12,"hi":12.47,"lo":12.26,"d":1},{"h":207.13,"hi":12.45,"lo":12.31,"d":0},{"h":208.15,"hi":12.47,"lo":12.28,"d":0},{"h":209.16,"hi":12.66,"lo":12.31,"d":0},{"h":210.18,"hi":12.39,"lo":12.2,"d":0},{"h":211.19,"hi":12.39,"lo":12.28,"d":0},{"h":212.2,"hi":12.52,"lo":12.31,"d":0},{"h":213.22,"hi":12.56,"lo":12.34,"d":0},{"h":214.23,"hi":12.5,"lo":12.31,"d":1},{"h":215.25,"hi":12.54,"lo":12.31,"d":0},{"h":216.26,"hi":12.5,"lo":12.34,"d":0},
{"h":217.28,"hi":12.45,"lo":12.26,"d":0},{"h":218.29,"hi":12.5,"lo":12.23,"d":0},{"h":219.31,"hi":12.5,"lo":12.26,"d":1},{"h":220.32,"hi":13.0,"lo":12.45,"d":0},{"h":221.34,"hi":12.77,"lo":12.45,"d":0},{"h":222.35,"hi":12.72,"lo":12.5,"d":0},{"h":223.37,"hi":12.75,"lo":12.47,"d":0},{"h":224.38,"hi":12.9,"lo":12.47,"d":0},{"h":225.4,"hi":12.75,"lo":12.5,"d":0},{"h":226.41,"hi":12.83,"lo":12.5,"d":0},{"h":227.43,"hi":12.86,"lo":12.55,"d":0},{"h":228.44,"hi":14.18,"lo":12.77,"d":0},{"h":229.46,"hi":13.79,"lo":12.89,"d":0},{"h":230.47,"hi":13.64,"lo":12.86,"d":0},{"h":231.49,"hi":13.62,"lo":13.0,"d":0},{"h":232.5,"hi":13.37,"lo":12.83,"d":1},{"h":233.51,"hi":13.2,"lo":12.75,"d":1},{"h":234.53,"hi":13.11,"lo":12.8,"d":1},{"h":235.54,"hi":13.03,"lo":12.8,"d":1},{"h":236.56,"hi":12.82,"lo":12.55,"d":1},{"h":237.57,"hi":12.65,"lo":12.39,"d":1},{"h":238.59,"hi":12.41,"lo":12.2,"d":1},{"h":239.6,"hi":12.2,"lo":11.99,"d":1},{"h":240.62,"hi":12.05,"lo":11.81,"d":1},
{"h":241.63,"hi":11.97,"lo":11.55,"d":1},{"h":242.65,"hi":11.91,"lo":11.73,"d":1},{"h":243.66,"hi":12.07,"lo":11.78,"d":0},{"h":244.68,"hi":12.28,"lo":12.05,"d":0},{"h":245.69,"hi":12.31,"lo":12.1,"d":0},{"h":246.71,"hi":12.36,"lo":12.23,"d":0},{"h":247.72,"hi":12.38,"lo":12.23,"d":0},{"h":248.74,"hi":12.31,"lo":12.1,"d":1},{"h":249.75,"hi":12.19,"lo":11.94,"d":1},{"h":250.77,"hi":12.3,"lo":12.1,"d":0},{"h":251.78,"hi":12.3,"lo":12.15,"d":0},{"h":252.8,"hi":12.28,"lo":11.89,"d":0},{"h":253.81,"hi":12.15,"lo":11.97,"d":1},{"h":254.83,"hi":12.15,"lo":12.05,"d":0},{"h":255.84,"hi":12.45,"lo":12.13,"d":0},{"h":256.86,"hi":12.34,"lo":12.18,"d":0},{"h":257.87,"hi":12.3,"lo":12.13,"d":0},{"h":258.88,"hi":12.31,"lo":12.1,"d":0},{"h":259.9,"hi":12.34,"lo":12.15,"d":0},{"h":260.91,"hi":12.44,"lo":12.31,"d":0},{"h":261.93,"hi":12.39,"lo":11.97,"d":1},{"h":262.94,"hi":12.07,"lo":11.44,"d":1},{"h":263.96,"hi":12.02,"lo":11.76,"d":0},{"h":264.97,"hi":11.97,"lo":11.81,"d":1},
{"h":265.99,"hi":11.91,"lo":11.78,"d":1},{"h":267.0,"hi":11.86,"lo":11.73,"d":0},{"h":268.02,"hi":11.81,"lo":11.6,"d":1},{"h":269.03,"hi":11.78,"lo":11.47,"d":1},{"h":270.05,"hi":12.05,"lo":11.44,"d":0},{"h":271.06,"hi":11.7,"lo":11.47,"d":0},{"h":272.08,"hi":11.63,"lo":11.4,"d":1},{"h":273.09,"hi":11.57,"lo":11.45,"d":1},{"h":274.11,"hi":11.63,"lo":11.5,"d":0},{"h":275.12,"hi":11.68,"lo":11.55,"d":0},{"h":276.14,"hi":11.76,"lo":11.6,"d":0},{"h":277.06,"hi":11.87,"lo":11.73,"d":0},{"h":278.07,"hi":11.87,"lo":11.7,"d":0},{"h":279.09,"hi":11.85,"lo":11.72,"d":0},{"h":280.1,"hi":11.83,"lo":11.7,"d":0},{"h":281.12,"hi":11.93,"lo":11.78,"d":0},{"h":282.13,"hi":11.92,"lo":11.78,"d":0},{"h":283.15,"hi":12.03,"lo":11.86,"d":0},{"h":284.16,"hi":12.05,"lo":11.91,"d":0},{"h":285.18,"hi":12.05,"lo":11.91,"d":0},{"h":286.19,"hi":12.15,"lo":11.58,"d":1},{"h":287.21,"hi":11.62,"lo":11.27,"d":1},
{"h":288.22,"hi":11.6,"lo":11.17,"d":1},{"h":289.24,"hi":11.3,"lo":11.07,"d":1},{"h":290.25,"hi":11.21,"lo":11.02,"d":1},{"h":291.27,"hi":11.23,"lo":10.85,"d":0},{"h":292.28,"hi":11.22,"lo":10.99,"d":1},{"h":293.3,"hi":11.35,"lo":11.1,"d":0},{"h":294.31,"hi":11.34,"lo":11.14,"d":1},{"h":295.33,"hi":11.35,"lo":11.14,"d":0},{"h":296.34,"hi":11.34,"lo":11.14,"d":0},{"h":297.36,"hi":11.39,"lo":11.29,"d":0},{"h":298.37,"hi":11.4,"lo":11.3,"d":0},{"h":299.39,"hi":11.41,"lo":11.32,"d":0},{"h":300.4,"hi":11.5,"lo":11.3,"d":0},{"h":301.41,"hi":11.47,"lo":11.32,"d":0},{"h":302.43,"hi":11.5,"lo":11.27,"d":0},{"h":303.44,"hi":11.4,"lo":11.21,"d":0},{"h":304.46,"hi":11.46,"lo":11.35,"d":0},{"h":305.47,"hi":11.45,"lo":11.34,"d":0},{"h":306.49,"hi":11.44,"lo":11.32,"d":0},{"h":307.5,"hi":11.42,"lo":11.35,"d":0},{"h":308.52,"hi":11.44,"lo":11.32,"d":0},{"h":309.53,"hi":11.32,"lo":11.12,"d":1},{"h":310.55,"hi":11.08,"lo":10.97,"d":1},{"h":311.56,"hi":11.04,"lo":10.84,"d":1},
{"h":312.58,"hi":10.87,"lo":10.66,"d":1},{"h":313.59,"hi":10.78,"lo":10.68,"d":1},{"h":314.61,"hi":11.29,"lo":10.92,"d":0},{"h":315.62,"hi":11.27,"lo":11.07,"d":0},{"h":316.64,"hi":11.23,"lo":11.06,"d":0},{"h":317.65,"hi":11.18,"lo":11.04,"d":0},{"h":318.67,"hi":11.09,"lo":10.78,"d":1},{"h":319.68,"hi":10.87,"lo":10.69,"d":1},{"h":320.7,"hi":10.54,"lo":9.76,"d":1},{"h":321.71,"hi":10.1,"lo":9.6,"d":0},{"h":322.73,"hi":9.93,"lo":9.63,"d":1},{"h":323.74,"hi":9.94,"lo":9.67,"d":0},{"h":324.76,"hi":9.76,"lo":9.42,"d":1},{"h":325.77,"hi":9.49,"lo":8.75,"d":1},{"h":326.79,"hi":9.77,"lo":9.17,"d":1},{"h":327.8,"hi":9.65,"lo":9.25,"d":0},{"h":328.82,"hi":9.45,"lo":9.13,"d":1},{"h":329.83,"hi":9.22,"lo":8.91,"d":1},{"h":330.84,"hi":9.19,"lo":8.9,"d":1},{"h":331.86,"hi":9.25,"lo":8.95,"d":0},{"h":332.87,"hi":9.47,"lo":8.95,"d":0},{"h":333.89,"hi":9.76,"lo":9.43,"d":0},{"h":334.9,"hi":9.91,"lo":9.61,"d":0},{"h":335.92,"hi":10.02,"lo":9.65,"d":0},
{"h":336.93,"hi":9.88,"lo":9.63,"d":0},{"h":337.95,"hi":9.82,"lo":9.42,"d":0},{"h":338.96,"hi":9.8,"lo":9.63,"d":0},{"h":339.98,"hi":9.99,"lo":9.73,"d":0},{"h":340.99,"hi":9.92,"lo":9.71,"d":0},{"h":342.01,"hi":9.92,"lo":9.78,"d":0},{"h":343.02,"hi":10.15,"lo":9.71,"d":0},{"h":344.04,"hi":10.33,"lo":10.11,"d":0},{"h":345.05,"hi":10.28,"lo":10.13,"d":0},{"h":346.07,"hi":10.21,"lo":10.0,"d":0},{"h":347.08,"hi":10.18,"lo":10.02,"d":0},{"h":348.1,"hi":10.2,"lo":10.06,"d":0},{"h":349.11,"hi":10.29,"lo":10.2,"d":0},{"h":350.13,"hi":10.27,"lo":10.16,"d":0},{"h":351.14,"hi":10.11,"lo":9.98,"d":0},{"h":352.16,"hi":10.02,"lo":9.88,"d":1},{"h":353.17,"hi":9.99,"lo":9.9,"d":1},{"h":354.19,"hi":9.99,"lo":9.84,"d":0},{"h":355.2,"hi":10.04,"lo":9.82,"d":1},{"h":356.22,"hi":9.97,"lo":9.8,"d":0},{"h":357.23,"hi":10.13,"lo":9.73,"d":0},{"h":358.25,"hi":10.2,"lo":9.95,"d":0},{"h":359.26,"hi":10.19,"lo":10.04,"d":0},{"h":360.27,"hi":10.2,"lo":10.02,"d":0},
{"h":361.29,"hi":10.11,"lo":10.0,"d":0},{"h":362.3,"hi":10.11,"lo":10.02,"d":0},{"h":363.32,"hi":10.11,"lo":9.9,"d":0},{"h":364.33,"hi":10.15,"lo":10.04,"d":0},{"h":365.35,"hi":10.38,"lo":10.0,"d":0},{"h":366.36,"hi":10.13,"lo":10.02,"d":1},{"h":367.38,"hi":10.18,"lo":10.04,"d":0},{"h":368.39,"hi":10.22,"lo":10.09,"d":0},{"h":369.41,"hi":10.36,"lo":10.2,"d":0},{"h":370.42,"hi":10.36,"lo":10.2,"d":0},{"h":371.44,"hi":10.34,"lo":10.2,"d":0},{"h":372.45,"hi":10.41,"lo":10.15,"d":1},{"h":373.47,"hi":10.34,"lo":10.15,"d":0},{"h":374.48,"hi":10.42,"lo":10.22,"d":0},{"h":375.5,"hi":10.31,"lo":10.2,"d":0},{"h":376.51,"hi":10.29,"lo":10.18,"d":0},{"h":377.53,"hi":10.33,"lo":10.2,"d":1},{"h":378.54,"hi":10.25,"lo":10.11,"d":1},{"h":379.56,"hi":10.27,"lo":10.11,"d":0},{"h":380.57,"hi":10.31,"lo":10.13,"d":0},{"h":381.59,"hi":10.2,"lo":9.9,"d":1},{"h":382.6,"hi":10.04,"lo":9.84,"d":1},{"h":383.62,"hi":10.02,"lo":9.86,"d":1},{"h":384.63,"hi":9.96,"lo":9.82,"d":0},
{"h":385.64,"hi":9.91,"lo":9.73,"d":1},{"h":386.66,"hi":9.97,"lo":9.77,"d":0},{"h":387.67,"hi":9.9,"lo":9.71,"d":1},{"h":388.69,"hi":9.93,"lo":9.76,"d":0},{"h":389.7,"hi":9.95,"lo":9.77,"d":1},{"h":390.72,"hi":9.95,"lo":9.82,"d":0},{"h":391.73,"hi":9.93,"lo":9.76,"d":0},{"h":392.75,"hi":10.31,"lo":9.91,"d":0},{"h":393.76,"hi":10.32,"lo":10.15,"d":0},{"h":394.78,"hi":10.31,"lo":10.2,"d":0},{"h":395.79,"hi":10.29,"lo":10.18,"d":0},{"h":396.81,"hi":10.31,"lo":10.2,"d":0},{"h":397.82,"hi":10.29,"lo":10.14,"d":0},{"h":398.84,"hi":10.28,"lo":10.18,"d":0},{"h":399.85,"hi":10.29,"lo":10.21,"d":0},{"h":400.87,"hi":10.27,"lo":10.16,"d":0},{"h":401.88,"hi":10.25,"lo":10.18,"d":0},{"h":402.9,"hi":10.24,"lo":10.18,"d":0},{"h":403.91,"hi":10.34,"lo":10.18,"d":1},{"h":404.93,"hi":10.27,"lo":10.11,"d":1},{"h":405.94,"hi":10.29,"lo":10.2,"d":0},{"h":406.96,"hi":10.27,"lo":10.16,"d":1},{"h":407.97,"hi":10.25,"lo":10.18,"d":1},{"h":408.99,"hi":10.24,"lo":10.09,"d":0},
{"h":410.0,"hi":10.24,"lo":10.17,"d":1},{"h":411.01,"hi":10.27,"lo":10.19,"d":0},{"h":412.03,"hi":10.28,"lo":10.2,"d":0},{"h":413.04,"hi":10.31,"lo":10.22,"d":0},{"h":414.06,"hi":10.65,"lo":10.2,"d":0},{"h":415.07,"hi":10.47,"lo":10.3,"d":0},{"h":416.09,"hi":10.5,"lo":10.34,"d":0},{"h":417.1,"hi":10.52,"lo":10.34,"d":0},{"h":418.12,"hi":10.5,"lo":10.36,"d":0},{"h":419.13,"hi":10.56,"lo":10.31,"d":1},{"h":420.15,"hi":10.38,"lo":10.21,"d":1},{"h":421.16,"hi":10.38,"lo":10.27,"d":0}]
},
"vconcat": [
{
"width": 2510, "height": 293,
"layer": [
{"data": {"name": "osc"}, "mark": {"type": "line", "strokeWidth": 2, "color": "#c8c8c8"},
 "encoding": {"x": {"field": "h", "type": "quantitative", "scale": {"domain": [-12.23, 435.98], "nice": false, "zero": false, "padding": 0}, "axis": null},
  "y": {"field": "v", "type": "quantitative", "scale": {"domain": [-46.22, 40.59], "nice": false, "zero": false, "padding": 0},
   "axis": {"orient": "right", "offset": -80, "values": [40, 20, 0, -20, -40], "format": ".3f", "labelPadding": 11, "labelAlign": "left", "labelBaseline": "middle", "title": null, "zindex": 1}}}},
{"data": {"name": "vlines"}, "mark": {"type": "rule", "strokeWidth": 2},
 "encoding": {"x": {"field": "h", "type": "quantitative", "axis": null},
  "color": {"condition": {"test": "datum.k == 'w'", "value": "#ffffff"}, "value": "#f23645"}}},
{"data": {"values": [{}]}, "mark": {"type": "rule", "color": "#ff0000", "strokeWidth": 3},
 "encoding": {"x": {"datum": -12.23, "type": "quantitative", "axis": null}, "x2": {"datum": 421.7}, "y": {"datum": -24, "type": "quantitative"}}},
{"data": {"values": [{"h1": 195.6, "h2": 198.8}, {"h1": 228.3, "h2": 235.4}]}, "mark": {"type": "rule", "color": "#ffffff", "strokeWidth": 3},
 "encoding": {"x": {"field": "h1", "type": "quantitative", "axis": null}, "x2": {"field": "h2"}, "y": {"datum": -24, "type": "quantitative"}}},
{"data": {"name": "topseg"}, "mark": {"type": "rule"},
 "encoding": {"x": {"field": "h1", "type": "quantitative", "axis": null}, "x2": {"field": "h2"}, "y": {"datum": 24, "type": "quantitative"},
  "color": {"condition": [{"test": "datum.k == 'w'", "value": "#ffffff"}, {"test": "datum.k == 'r'", "value": "#ff1a1a"}], "value": "#6f7280"},
  "strokeWidth": {"condition": {"test": "datum.k == 'g'", "value": 2.5}, "value": 4},
  "strokeDash": {"condition": [{"test": "datum.k == 'r'", "value": [5, 2]}, {"test": "datum.k == 'g'", "value": [2, 1]}], "value": [12, 2]}}},
{"data": {"name": "osc"}, "transform": [{"filter": "datum.r > 0"}], "mark": {"type": "line", "strokeWidth": 2, "color": "#e8313a"},
 "encoding": {"x": {"field": "h", "type": "quantitative", "axis": null}, "y": {"field": "v", "type": "quantitative"}, "detail": {"field": "r", "type": "nominal"}}},
{"data": {"name": "cross"}, "mark": {"type": "point", "shape": "cross", "filled": true, "size": 70, "opacity": 1, "strokeWidth": 0},
 "encoding": {"x": {"field": "h", "type": "quantitative", "axis": null}, "y": {"field": "v", "type": "quantitative"},
  "color": {"condition": {"test": "datum.k == 'w'", "value": "#ffffff"}, "value": "#ff0000"}}},
{"data": {"name": "dots"}, "mark": {"type": "point", "shape": "circle", "filled": true, "size": 8, "color": "#ffffff", "opacity": 1},
 "encoding": {"x": {"field": "h", "type": "quantitative", "axis": null}, "y": {"field": "v", "type": "quantitative"}}},
{"data": {"values": [{}]}, "mark": {"type": "text", "text": "Liquidity Detective Oscillator & Bars - HTF Premium [MethodAlgo] v3", "align": "left", "baseline": "middle", "fontSize": 14, "color": "#d1d4dc"},
 "encoding": {"x": {"datum": -10.63, "type": "quantitative", "axis": null}, "y": {"datum": 34.96, "type": "quantitative"}}}
]
},
{
"width": 2510, "height": 1279,
"layer": [
{"data": {"name": "bars"}, "mark": {"type": "rule", "strokeWidth": 2, "xOffset": 2.8},
 "encoding": {
  "x": {"field": "h", "type": "quantitative", "scale": {"domain": [-12.23, 435.98], "nice": false, "zero": false, "padding": 0},
   "axis": {"orient": "bottom", "offset": -31, "values": [0, 24, 48, 72, 96, 120, 144, 168, 192, 216, 240, 264, 288, 312, 336, 360, 384, 408],
    "labelExpr": "['23','24','25','','','28','29','30','31','Aug','','3','','','','7','8','9'][datum.value/24]", "labelPadding": 9, "zindex": 1,
    "title": "TradingView", "titleX": 27, "titleY": 53, "titleAlign": "left", "titleAnchor": "start", "titleBaseline": "middle", "titleColor": "#d1d4dc", "titleFontSize": 16, "titleFontWeight": "bold"}},
  "y": {"field": "hi", "type": "quantitative", "scale": {"type": "log", "domain": [8.105, 16.804], "nice": false, "padding": 0},
   "axis": {"orient": "right", "offset": -80, "values": [16.5, 16, 15.5, 15, 14.6, 14.2, 13.8, 13.4, 13, 12.6, 12.2, 11.8, 11.4, 11.1, 10.8, 10.5, 10.2, 9.9, 9.65, 9.45, 9.25, 9.05, 8.85, 8.67, 8.49, 8.31], "format": ".2f", "labelPadding": 12, "labelAlign": "left", "labelBaseline": "middle", "title": null, "zindex": 0}},
  "y2": {"field": "lo"},
  "color": {"condition": {"test": "datum.d == 1", "value": "#ee1111"}, "value": "#c4c4c4"}}},
{"data": {"name": "vlines"}, "mark": {"type": "rule", "strokeWidth": 2},
 "encoding": {"x": {"field": "h", "type": "quantitative"},
  "color": {"condition": {"test": "datum.k == 'w'", "value": "#ffffff"}, "value": "#f23645"}}},
{"data": {"values": [{"p": 12.47}]}, "mark": {"type": "rule", "color": "#d1d4dc", "strokeWidth": 1, "strokeDash": [1, 3]},
 "encoding": {"x": {"datum": -12.23, "type": "quantitative"}, "x2": {"datum": 421.7}, "y": {"field": "p", "type": "quantitative"}}},
{"data": {"name": "levels"}, "mark": {"type": "rule", "strokeWidth": 3, "color": "#ff9800"},
 "encoding": {"x": {"field": "h1", "type": "quantitative"}, "x2": {"field": "h2"}, "y": {"field": "p", "type": "quantitative"}}},
{"data": {"name": "vlines"}, "mark": {"type": "bar", "width": 170},
 "encoding": {"x": {"field": "h", "type": "quantitative"}, "y": {"datum": 8.259, "type": "quantitative"}, "y2": {"datum": 8.124},
  "color": {"condition": {"test": "datum.k == 'w'", "value": "#ffffff"}, "value": "#f23645"}}},
{"data": {"name": "xlab"}, "mark": {"type": "text", "align": "left", "baseline": "middle", "fontSize": 15},
 "encoding": {"x": {"field": "h", "type": "quantitative"}, "y": {"datum": 8.189, "type": "quantitative"}, "text": {"field": "t"},
  "color": {"condition": {"test": "datum.k == 'w'", "value": "#131722"}, "value": "#ffffff"}}},
{"data": {"name": "tags"}, "transform": [{"filter": "datum.k == 'hl' || datum.k == 'cur'"}], "mark": {"type": "bar", "orient": "horizontal", "size": 20, "strokeWidth": 1.5, "cornerRadius": 2},
 "encoding": {"x": {"datum": 421.9, "type": "quantitative"}, "x2": {"datum": 431.8}, "y": {"field": "v", "type": "quantitative"},
  "color": {"condition": {"test": "datum.k == 'hl'", "value": "#1c3b70"}, "value": "#000000"},
  "stroke": {"condition": {"test": "datum.k == 'cur'", "value": "#f23645"}, "value": null}}},
{"data": {"name": "tags"}, "transform": [{"filter": "datum.lab != ''"}], "mark": {"type": "bar", "orient": "horizontal", "size": 20, "color": "#1c3b70", "cornerRadius": 2},
 "encoding": {"x": {"datum": 414.3, "type": "quantitative"}, "x2": {"datum": 421.6}, "y": {"field": "v", "type": "quantitative"}}},
{"data": {"name": "tags"}, "transform": [{"filter": "datum.k == 'last'"}], "mark": {"type": "bar", "orient": "horizontal", "size": 37, "yOffset": 8.5, "color": "#ffffff", "cornerRadius": 2},
 "encoding": {"x": {"datum": 421.9, "type": "quantitative"}, "x2": {"datum": 431.8}, "y": {"field": "v", "type": "quantitative"}}},
{"data": {"name": "tags"}, "mark": {"type": "text", "align": "center", "baseline": "middle", "fontSize": 15},
 "encoding": {"x": {"datum": 427.5, "type": "quantitative"}, "y": {"field": "v", "type": "quantitative"}, "text": {"field": "val"},
  "color": {"condition": [{"test": "datum.k == 'hl'", "value": "#ffffff"}, {"test": "datum.k == 'last'", "value": "#131722"}], "value": "#f23645"}}},
{"data": {"name": "tags"}, "transform": [{"filter": "datum.lab != ''"}], "mark": {"type": "text", "align": "center", "baseline": "middle", "fontSize": 15, "color": "#ffffff"},
 "encoding": {"x": {"datum": 417.9, "type": "quantitative"}, "y": {"field": "v", "type": "quantitative"}, "text": {"field": "lab"}}},
{"data": {"name": "tags"}, "transform": [{"filter": "datum.k == 'last'"}], "mark": {"type": "text", "align": "center", "baseline": "middle", "fontSize": 15, "dy": 18, "color": "#434651"},
 "encoding": {"x": {"datum": 427.5, "type": "quantitative"}, "y": {"field": "v", "type": "quantitative"}, "text": {"field": "cd"}}},
{"data": {"name": "legend"}, "mark": {"type": "text", "align": "left", "baseline": "middle", "fontSize": 15},
 "encoding": {"x": {"field": "h", "type": "quantitative"}, "y": {"datum": 16.623, "type": "quantitative"}, "text": {"field": "t"},
  "color": {"condition": {"test": "datum.k == 'g'", "value": "#b2b5be"}, "value": "#f23645"}}}
]
}
]
}
